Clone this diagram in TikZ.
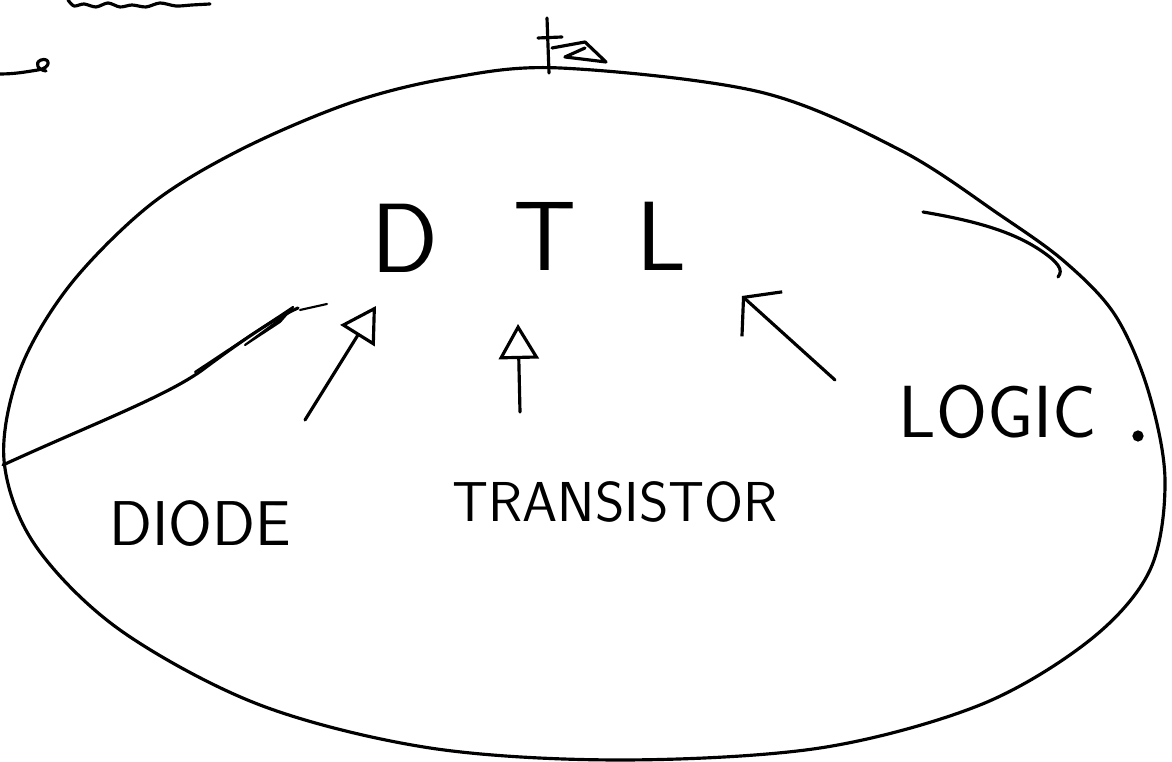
\documentclass[tikz,border=0pt]{standalone}
\usetikzlibrary{arrows.meta}
\begin{document}
\begin{tikzpicture}[x=0.01cm,y=-0.01cm]
	\tikzstyle{stroke}=[line width=0.9pt,line cap=round,line join=round]
	\tikzstyle{big letter}=[font=\sffamily\fontsize{28}{30}\selectfont]
	\tikzstyle{part name}=[font=\sffamily\fontsize{18}{20}\selectfont]
	\tikzstyle{pointer}=[stroke,-{Triangle[open,length=3.5mm,width=4mm]}]
	\tikzstyle{bent pointer}=[stroke,-{Straight Barb[length=2.5mm,width=6mm]}]

	\useasboundingbox (0,0) rectangle (1172,762);

	% the big outline
	\draw[stroke] plot[smooth cycle,tension=0.55] coordinates {
		(560,68) (760,92) (900,150) (1000,215) (1065,262) (1115,315)
		(1148,390) (1165,480) (1150,570) (1090,640) (980,705) (820,748)
		(620,760) (430,748) (260,705) (120,630) (35,545) (4,460) (20,370)
		(70,285) (150,205) (240,150) (350,103) (450,78)};

	% letters
	\node[big letter] (d) at (405,238) {D};
	\node[big letter] (t) at (545,236) {T};
	\node[big letter] (l) at (662,236) {L};

	% parts
	\node[part name] (diode) at (200,524) {DIODE};
	\node[part name,font=\sffamily\fontsize{16}{18}\selectfont] (transistor) at (615,502) {TRANSISTOR};
	\node[part name,font=\sffamily\fontsize{21}{22}\selectfont] (logic) at (998,412) {LOGIC};
	\fill (1138,436) circle (1.6pt);

	\coordinate (diode tail) at (305,420);
	\coordinate (diode head) at (376,306);
	\coordinate (transistor tail) at (520,412);
	\coordinate (transistor head) at (518,324);
	\coordinate (logic tail) at (835,380);
	\coordinate (logic head) at (742,296);

	\draw[pointer] (diode tail) -- (diode head);
	\draw[pointer] (transistor tail) -- (transistor head);
	\draw[bent pointer] (logic tail) -- (logic head);

	% stray strokes
	\draw[stroke] (3,465) .. controls (90,425) and (170,395) .. (205,368)
		.. controls (240,342) and (275,318) .. (298,308);
	\draw[stroke,line width=0.6pt] (195,372) -- (293,307) -- (280,322) -- (245,345) -- (290,312);
	\draw[stroke,line width=0.6pt] (300,310) -- (327,304);
	\draw[stroke] (923,212) .. controls (970,220) and (1010,230) .. (1040,250)
		.. controls (1058,262) and (1064,270) .. (1058,277);
	\draw[stroke] (547,18) -- (549,73);
	\draw[stroke] (538,38) -- (562,37);
	\draw[stroke] (552,48) -- (585,42) -- (606,62) -- (565,57) -- (585,48);
	\draw[stroke] (0,74) .. controls (15,74) and (25,72) .. (38,70)
		.. controls (52,68) and (50,57) .. (41,60) .. controls (34,63) and (38,70) .. (46,71);
	\draw[stroke] plot[smooth] coordinates {(68,0) (74,6) (84,4) (96,7) (108,3) (120,7) (132,5) (146,7) (160,3) (176,6) (192,5) (210,4)};
\end{tikzpicture}
\end{document}
